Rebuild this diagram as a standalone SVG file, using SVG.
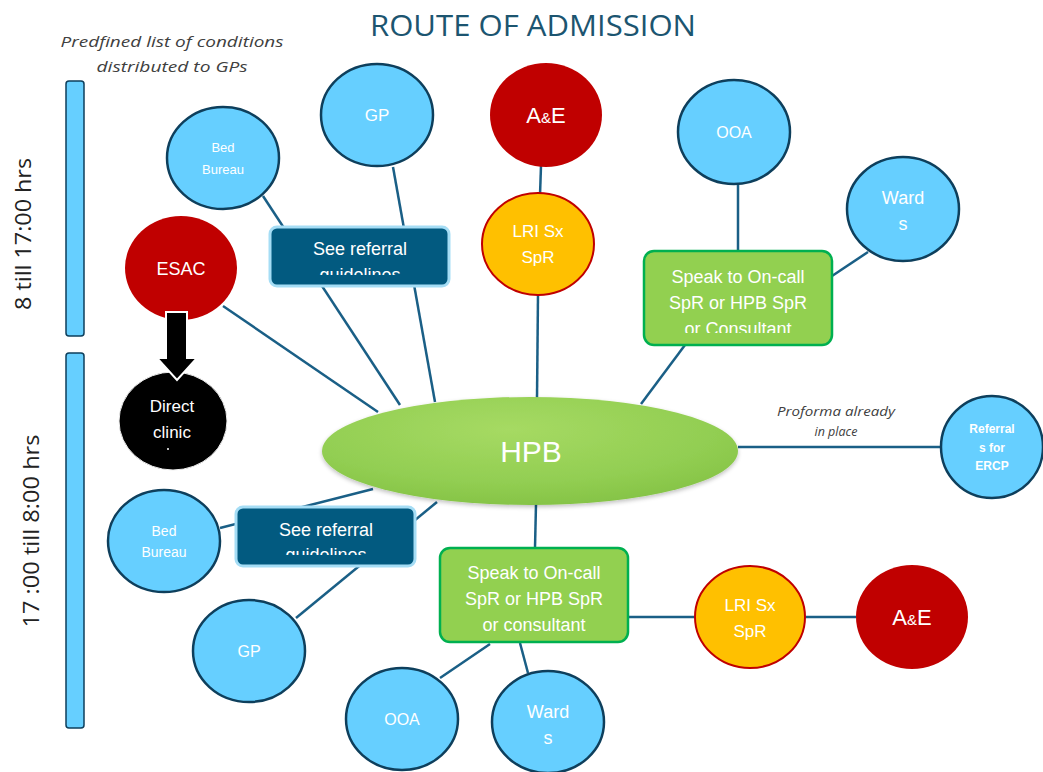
<svg xmlns="http://www.w3.org/2000/svg" width="1043" height="772" viewBox="0 0 1043 772">
<defs>
<style>
.t{font-family:"Liberation Sans",Arial,sans-serif;fill:#fff;text-anchor:middle}
.blue{fill:#66CFFF;stroke:#0E3F5C;stroke-width:2.5}
.red{fill:#C00000}
.yel{fill:#FFC000;stroke:#C00000;stroke-width:2}
.grn{fill:#92D050;stroke:#00B050;stroke-width:2.5}
.ref{fill:#025A80;stroke:#A5DDF5;stroke-width:3}
.bar{fill:#66CFFF;stroke:#0E3F5C;stroke-width:1.5}
.con line{stroke:#1A5F86;stroke-width:2.5}
.note{font-family:"Open Sans","Liberation Sans",sans-serif;font-style:italic;fill:#404040;text-anchor:middle}
</style>
<radialGradient id="hpbg" cx="0.45" cy="0.3" r="0.7">
<stop offset="0" stop-color="#A6DA63"/>
<stop offset="0.7" stop-color="#92CE52"/>
<stop offset="1" stop-color="#86C447"/>
</radialGradient>
<filter id="sh" x="-10%" y="-20%" width="120%" height="150%">
<feGaussianBlur in="SourceAlpha" stdDeviation="2"/>
<feOffset dy="2" result="b"/>
<feFlood flood-color="#000" flood-opacity="0.25"/>
<feComposite in2="b" operator="in"/>
<feMerge><feMergeNode/><feMergeNode in="SourceGraphic"/></feMerge>
</filter>
<clipPath id="c1"><rect x="270" y="227" width="180" height="48"/></clipPath>
<clipPath id="c2"><rect x="236" y="507" width="180" height="48"/></clipPath>
<clipPath id="c3"><rect x="644" y="251" width="188" height="82"/></clipPath>
</defs>
<rect width="1043" height="772" fill="#fff"/>

<text x="533" y="36" font-family="'Open Sans','Liberation Sans',sans-serif" font-size="29" fill="#1C5570" text-anchor="middle" textLength="326" lengthAdjust="spacingAndGlyphs">ROUTE OF ADMISSION</text>
<text class="note" x="172" y="47" font-size="15" textLength="223" lengthAdjust="spacingAndGlyphs">Predfined list of conditions</text>
<text class="note" x="172" y="72" font-size="15" textLength="151" lengthAdjust="spacingAndGlyphs">distributed to GPs</text>
<text class="note" x="836" y="416" font-size="12.5" textLength="118" lengthAdjust="spacingAndGlyphs">Proforma already</text>
<text class="note" x="836" y="436" font-size="12.5">in place</text>

<g id="timebars">
<rect class="bar" x="66" y="81" width="18" height="255" rx="3"/>
<rect class="bar" x="66" y="353" width="18" height="375" rx="3"/>
<text transform="translate(31,234) rotate(-90)" font-family="'Open Sans','Liberation Sans',sans-serif" font-size="22" fill="#222" text-anchor="middle" textLength="152" lengthAdjust="spacingAndGlyphs">8 till 17:00 hrs</text>
<text transform="translate(39,531) rotate(-90)" font-family="'Open Sans','Liberation Sans',sans-serif" font-size="22" fill="#222" text-anchor="middle" textLength="193" lengthAdjust="spacingAndGlyphs">17 :00 till 8:00 hrs</text>
</g>

<g id="connectors" class="con">
<line x1="263" y1="196" x2="400" y2="405"/>
<line x1="393" y1="167" x2="435" y2="402"/>
<line x1="223" y1="306" x2="378" y2="412"/>
<line x1="541" y1="166" x2="540" y2="195"/>
<line x1="538" y1="294" x2="537" y2="398"/>
<line x1="738" y1="184" x2="738" y2="252"/>
<line x1="868" y1="252" x2="832" y2="276"/>
<line x1="685" y1="345" x2="641" y2="404"/>
<line x1="738" y1="447" x2="941" y2="447"/>
<line x1="536" y1="504" x2="535" y2="548"/>
<line x1="628" y1="617" x2="695" y2="617"/>
<line x1="806" y1="617" x2="856" y2="617"/>
<line x1="220" y1="528" x2="373" y2="489"/>
<line x1="296" y1="618" x2="437" y2="502"/>
<line x1="440" y1="678" x2="490" y2="644"/>
<line x1="520" y1="643" x2="528" y2="673"/>
</g>

<g id="hpb">
<ellipse cx="530" cy="451" rx="208" ry="54" fill="url(#hpbg)" filter="url(#sh)"/>
<text class="t" x="531" y="462" font-size="30">HPB</text>
</g>

<g id="bedbureau-day">
<ellipse class="blue" cx="223" cy="158" rx="56" ry="51"/>
<text class="t" x="223" y="152" font-size="13">Bed</text>
<text class="t" x="223" y="174" font-size="13">Bureau</text>
</g>
<g id="gp-day">
<ellipse class="blue" cx="377" cy="115" rx="56" ry="51"/>
<text class="t" x="377" y="121" font-size="17">GP</text>
</g>
<g id="ae-day">
<ellipse class="red" cx="546" cy="115" rx="56" ry="52"/>
<text class="t" x="546" y="123" font-size="22">A<tspan font-size="15">&amp;</tspan>E</text>
</g>
<g id="lri-day">
<ellipse class="yel" cx="538" cy="244" rx="56" ry="51"/>
<text class="t" x="538" y="237" font-size="17">LRI Sx</text>
<text class="t" x="538" y="263" font-size="17">SpR</text>
</g>
<g id="ooa-day">
<ellipse class="blue" cx="734" cy="132" rx="56" ry="52"/>
<text class="t" x="734" y="138" font-size="16">OOA</text>
</g>
<g id="wards-day">
<ellipse class="blue" cx="903" cy="209" rx="56" ry="52"/>
<text class="t" x="903" y="204" font-size="18">Ward</text>
<text class="t" x="903" y="230" font-size="18">s</text>
</g>
<g id="speak-day">
<rect class="grn" x="644" y="251" width="188" height="94" rx="10"/>
<g clip-path="url(#c3)">
<text class="t" x="738" y="283" font-size="18">Speak to On-call</text>
<text class="t" x="738" y="309" font-size="18">SpR or HPB SpR</text>
<text class="t" x="738" y="335" font-size="18">or Consultant</text>
</g>
</g>
<g id="referral-day">
<rect class="ref" x="270" y="227" width="179" height="59" rx="7"/>
<g clip-path="url(#c1)">
<text class="t" x="360" y="255" font-size="18">See referral</text>
<text class="t" x="360" y="281" font-size="18">guidelines</text>
</g>
</g>
<g id="esac">
<ellipse class="red" cx="181" cy="268" rx="56" ry="52"/>
<text class="t" x="181" y="275" font-size="18">ESAC</text>
</g>
<g id="direct-clinic">
<ellipse cx="173" cy="421" rx="54" ry="49" fill="#000" stroke="#eee" stroke-width="1"/>
<text class="t" x="172" y="412" font-size="17">Direct</text>
<text class="t" x="172" y="438" font-size="17">clinic</text>
<circle cx="168" cy="449" r="1" fill="#fff"/>
</g>
<g id="arrow">
<polygon points="166,312 187,312 187,358 197,358 177,380 157,358 166,358" fill="#000" stroke="#fff" stroke-width="2"/>
</g>

<g id="referrals-ercp">
<ellipse class="blue" cx="992" cy="447" rx="51" ry="51"/>
<text class="t" x="992" y="433" font-size="12" font-weight="bold">Referral</text>
<text class="t" x="992" y="452" font-size="12" font-weight="bold">s for</text>
<text class="t" x="992" y="470" font-size="12" font-weight="bold">ERCP</text>
</g>

<g id="speak-night">
<rect class="grn" x="440" y="548" width="188" height="94" rx="10"/>
<text class="t" x="534" y="579" font-size="18">Speak to On-call</text>
<text class="t" x="534" y="605" font-size="18">SpR or HPB SpR</text>
<text class="t" x="534" y="631" font-size="18">or consultant</text>
</g>
<g id="lri-night">
<ellipse class="yel" cx="750" cy="617" rx="55" ry="51"/>
<text class="t" x="750" y="611" font-size="17">LRI Sx</text>
<text class="t" x="750" y="637" font-size="17">SpR</text>
</g>
<g id="ae-night">
<ellipse class="red" cx="912" cy="617" rx="56" ry="52"/>
<text class="t" x="912" y="625" font-size="22">A<tspan font-size="15">&amp;</tspan>E</text>
</g>
<g id="bedbureau-night">
<ellipse class="blue" cx="164" cy="541" rx="56" ry="51"/>
<text class="t" x="164" y="536" font-size="14">Bed</text>
<text class="t" x="164" y="557" font-size="14">Bureau</text>
</g>
<g id="referral-night">
<rect class="ref" x="236" y="507" width="179" height="59" rx="7"/>
<g clip-path="url(#c2)">
<text class="t" x="326" y="536" font-size="18">See referral</text>
<text class="t" x="326" y="561" font-size="18">guidelines</text>
</g>
</g>
<g id="gp-night">
<ellipse class="blue" cx="249" cy="651" rx="56" ry="51"/>
<text class="t" x="249" y="657" font-size="16">GP</text>
</g>
<g id="ooa-night">
<ellipse class="blue" cx="402" cy="719" rx="56" ry="51"/>
<text class="t" x="402" y="725" font-size="16">OOA</text>
</g>
<g id="wards-night">
<ellipse class="blue" cx="548" cy="722" rx="56" ry="51"/>
<text class="t" x="548" y="718" font-size="18">Ward</text>
<text class="t" x="548" y="744" font-size="18">s</text>
</g>
</svg>
